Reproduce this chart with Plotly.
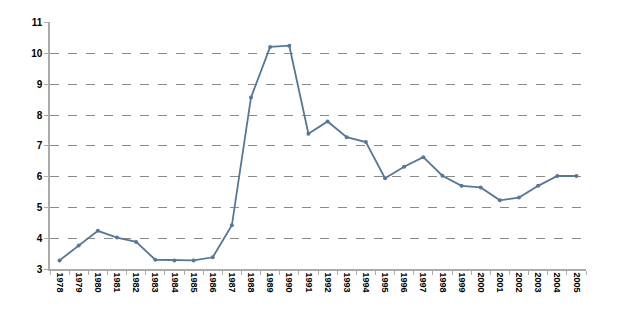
import plotly.graph_objects as go

years = [str(y) for y in range(1978, 2006)]
values = [3.28, 3.76, 4.24, 4.02, 3.88, 3.30, 3.28, 3.28, 3.38, 4.42,
          8.57, 10.21, 10.25, 7.39, 7.79, 7.28, 7.12, 5.95, 6.32, 6.63,
          6.03, 5.70, 5.65, 5.23, 5.32, 5.70, 6.02, 6.02]
y_ticks = list(range(3, 12))

fig = go.Figure()
fig.add_trace(go.Scatter(
    x=years, y=values, mode="lines+markers",
    line=dict(color="#557799", width=1.8),
    marker=dict(color="#557799", size=4),
    showlegend=False,
))
fig.update_layout(
    width=620, height=330,
    margin=dict(l=42, r=42, t=9, b=69),
    paper_bgcolor="white", plot_bgcolor="white",
    font=dict(family="Liberation Sans, Arial, sans-serif", color="black"),
)
fig.update_xaxes(
    type="category", tickangle=90, tickson="boundaries",
    range=[-0.5, len(years) - 0.5],
    ticks="outside", ticklen=4, tickcolor="#aaaaaa",
    showline=True, linecolor="#aaaaaa", linewidth=1.5,
    showgrid=False,
    tickfont=dict(size=9, weight="bold"),
)
fig.update_yaxes(
    range=[3, 11.02], tickvals=y_ticks,
    ticks="outside", ticklen=4, tickcolor="#aaaaaa",
    showline=True, linecolor="#aaaaaa", linewidth=1.5,
    showgrid=True, gridcolor="#8a8a8a", griddash="dash", gridwidth=1,
    zeroline=False,
    tickfont=dict(size=10, weight="bold"),
)
fig.write_html("out.html")
